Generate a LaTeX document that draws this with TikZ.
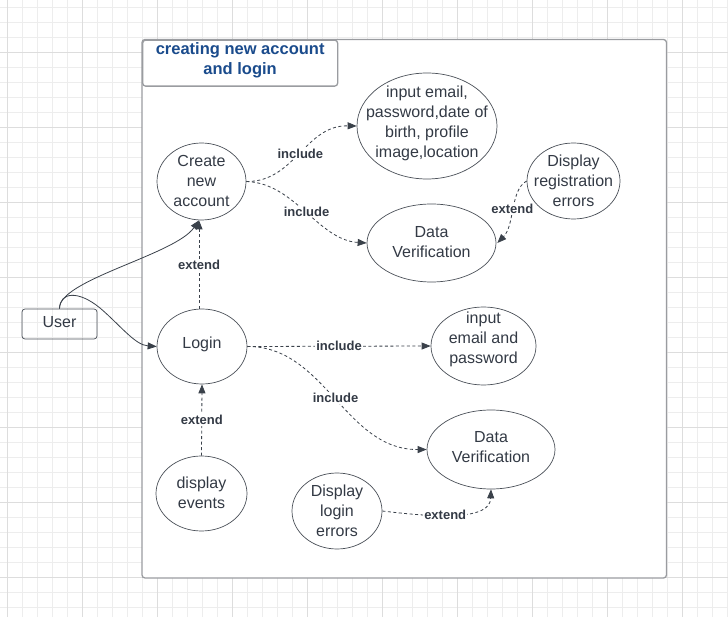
\documentclass[tikz,border=0pt]{standalone}
\usepackage{fontspec}
\setmainfont{Liberation Sans}
\usetikzlibrary{shapes.geometric,arrows.meta}
\definecolor{txt}{HTML}{333A45}
\definecolor{ln}{HTML}{3A414A}
\definecolor{ucline}{HTML}{4A5058}
\definecolor{gridminor}{HTML}{EDEDED}
\definecolor{gridmajor}{HTML}{DDDDDD}
\definecolor{framecol}{HTML}{9A9CA0}
\definecolor{titleblue}{HTML}{1A4B8C}
\begin{document}
\begin{tikzpicture}[x=1pt,y=-1pt,
  usecase/.style={ellipse, draw=ucline, line width=0.7pt, inner sep=0pt},
  uctext/.style={align=center, font=\fontsize{16}{20}\selectfont, text=txt, inner sep=0pt},
  dep/.style={draw=ln, line width=0.8pt, dash pattern=on 3pt off 2.5pt, -{Triangle[length=9pt,width=7pt]}},
  assoc/.style={draw=ln, line width=0.8pt, -{Triangle[length=9pt,width=7pt]}},
  deplabel/.style={font=\bfseries\fontsize{13}{15}\selectfont, text=txt, fill=white, inner sep=1pt},
]
\useasboundingbox (0,0) rectangle (728,617);
\fill[white] (0,0) rectangle (728,617);
% grid
\foreach \i in {0,...,48} \draw[gridminor, line width=1pt] ({7.5+15*\i},0) -- ({7.5+15*\i},617);
\foreach \i in {0,...,40} \draw[gridminor, line width=1pt] (0,{7.5+15*\i}) -- (728,{7.5+15*\i});
\foreach \i in {0,...,9} \draw[gridmajor, line width=1pt] ({7.5+75*\i},0) -- ({7.5+75*\i},617);
\foreach \i in {0,...,7} \draw[gridmajor, line width=1pt] (0,{52.5+75*\i}) -- (728,{52.5+75*\i});
% system frame
\draw[framecol, line width=1.3pt, fill=white, rounded corners=3pt] (142,39.5) rectangle (666.5,578);
\node[draw=framecol, line width=1.3pt, fill=white, rounded corners=3pt, minimum width=195pt, minimum height=46pt, anchor=north west, inner sep=0pt,
  label={[align=center, font=\bfseries\fontsize{16.5}{20}\selectfont, text=titleblue, yshift=3pt]center:creating new account\\and login}] (title) at (142,39.5) {};
% actor
\node[draw=ucline, line width=0.7pt, rounded corners=3pt, minimum width=75pt, minimum height=30pt, inner sep=0pt,
  label={[uctext, yshift=1.5pt]center:User}] (user) at (59.5,324) {};
% use cases
\node[usecase, minimum width=89pt, minimum height=77pt, label={[uctext, yshift=1pt]center:Create\\new\\account}] (create) at (201.5,181.5) {};
\node[usecase, minimum width=90pt, minimum height=75pt, label={[uctext, yshift=2pt]center:Login}] (login) at (202,346.5) {};
\node[usecase, minimum width=91pt, minimum height=75pt, label={[uctext, yshift=1pt]center:display\\events}] (events) at (201.5,493.5) {};
\node[usecase, minimum width=140pt, minimum height=106pt, label={[uctext, yshift=2.5pt]center:input email,\\password,date of\\birth, profile\\image,location}] (inreg) at (427,126) {};
\node[usecase, minimum width=93pt, minimum height=76pt, label={[uctext]center:Display\\registration\\errors}] (regerr) at (573.5,181) {};
\node[usecase, minimum width=129pt, minimum height=78pt, label={[uctext, yshift=1pt]center:Data\\Verification}] (dv1) at (431.5,243) {};
\node[usecase, minimum width=105pt, minimum height=78pt, label={[uctext, yshift=7pt]center:input\\email and\\password}] (inlog) at (483.5,346) {};
\node[usecase, minimum width=128pt, minimum height=79pt, label={[uctext, yshift=2pt]center:Data\\Verification}] (dv2) at (491,449.5) {};
\node[usecase, minimum width=90pt, minimum height=76pt, label={[uctext]center:Display\\login\\errors}] (logerr) at (337,511) {};
% associations
\draw[assoc] (user.north) .. controls (58,280) and (175,255) .. ([xshift=-2.5pt]create.south);
\draw[assoc] (user.north) .. controls (60,292) and (78,290) .. (100,308) .. controls (120,325) and (135,345) .. (login.west);
% dependencies
\draw[dep] ([xshift=-3pt]login.north) -- node[deplabel]{extend} ([xshift=-2.5pt]create.south);
\draw[dep] (events.north) -- node[deplabel]{extend} (login.south);
\draw[dep] (create.east) .. controls (295,182) and (305,125) .. node[deplabel, pos=0.5]{include} (inreg.west);
\draw[dep] (create.east) .. controls (295,183) and (318,240) .. node[deplabel, pos=0.5]{include} (dv1.west);
\draw[dep] (regerr.west) .. controls (510,190) and (515,225) .. node[deplabel, pos=0.5]{extend} ([xshift=1pt]dv1.east);
\draw[dep] (login.east) -- node[deplabel]{include} (inlog.west);
\draw[dep] (login.east) .. controls (325,346) and (345,450) .. node[deplabel, pos=0.5]{include} (dv2.west);
\draw[dep] (logerr.east) .. controls (440,518) and (490,520) .. node[deplabel, pos=0.4]{extend} (dv2.south);
\end{tikzpicture}
\end{document}
